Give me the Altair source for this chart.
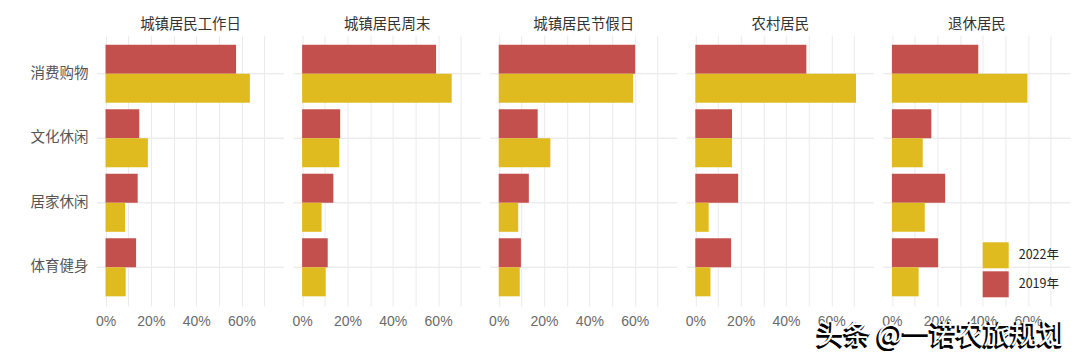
import altair as alt
import pandas as pd

groups = ['城镇居民工作日', '城镇居民周末', '城镇居民节假日', '农村居民', '退休居民']
categories = ['消费购物', '文化休闲', '居家休闲', '体育健身']
years = ['2022年', '2019年']
v2019 = [
    [57.6, 14.9, 14.2, 13.5],
    [59.1, 16.8, 13.8, 11.3],
    [60.2, 17.2, 13.3, 9.8],
    [49.0, 16.2, 18.9, 15.8],
    [38.1, 17.4, 23.5, 20.4],
]
v2022 = [
    [63.7, 18.7, 8.6, 8.9],
    [66.0, 16.4, 8.6, 10.4],
    [59.3, 22.8, 8.6, 9.3],
    [70.9, 16.2, 5.9, 6.7],
    [59.8, 13.6, 14.5, 11.8],
]
x_ticks = [0, 10, 20, 30, 40, 50, 60, 70]
watermark = '头条 @一诺农旅规划'

rows = []
for gi, g in enumerate(groups):
    for ci, c in enumerate(categories):
        rows.append({'group': g, 'category': c, 'year': '2019年', 'value': v2019[gi][ci]})
        rows.append({'group': g, 'category': c, 'year': '2022年', 'value': v2022[gi][ci]})
df = pd.DataFrame(rows)

GOLD = '#E0BB1F'
RED = '#C4504D'
CJK = 'Noto Sans CJK SC'
GRID = '#ebebeb'

y_enc = alt.Y('category:N', sort=categories,
              scale=alt.Scale(paddingInner=0, paddingOuter=0.1),
              axis=alt.Axis(title=None, ticks=False, domain=False, grid=False,
                            labelPadding=9, minExtent=70, labelFont=CJK,
                            labelFontSize=14.5, labelColor='#555555'))

hgrid = alt.Chart().mark_rule(color=GRID, strokeWidth=1).encode(y=y_enc)

bars = alt.Chart().mark_bar(opacity=1).encode(
    x=alt.X('value:Q',
            scale=alt.Scale(domain=[-3.75, 78.75], nice=False, zero=False),
            axis=alt.Axis(title=None, values=x_ticks,
                          labelExpr="datum.value % 20 == 0 ? datum.value + '%' : ''",
                          ticks=False, domain=False, grid=True, gridColor=GRID,
                          gridWidth=1, labelPadding=8, labelFont='Liberation Sans',
                          labelFontSize=14, labelColor='#6a6a6a')),
    y=y_enc,
    yOffset=alt.YOffset('year:N', sort=['2019年', '2022年'],
                        scale=alt.Scale(paddingInner=0, paddingOuter=0.111)),
    color=alt.Color('year:N',
                    scale=alt.Scale(domain=years, range=[GOLD, RED]),
                    legend=alt.Legend(title=None, orient='none', legendX=885.7,
                                      legendY=207.3, symbolType='square',
                                      symbolSize=676, symbolStrokeWidth=0,
                                      symbolOpacity=1, labelFont=CJK,
                                      labelFontSize=12.5, labelColor='#222222',
                                      labelOffset=10, rowPadding=3)),
)

wm_filter = (alt.datum.group == '退休居民') & (alt.datum.category == '消费购物') & (alt.datum.year == '2019年')
wm_shadow = alt.Chart().mark_text(
    text=watermark, align='left', baseline='alphabetic', font=CJK, fontSize=27,
    color='#000000', stroke='#000000', strokeWidth=1.4
).encode(x=alt.value(-68), y=alt.value(310.5)).transform_filter(wm_filter)
wm_text = alt.Chart().mark_text(
    text=watermark, align='left', baseline='alphabetic', font=CJK, fontSize=27,
    color='#ffffff'
).encode(x=alt.value(-66.5), y=alt.value(309)).transform_filter(wm_filter)

chart = alt.layer(hgrid, bars, wm_shadow, wm_text, data=df).properties(
    width=187, height=271
).facet(
    column=alt.Column('group:N', sort=groups,
                      header=alt.Header(title=None, labelFont=CJK, labelFontSize=14.4,
                                        labelColor='#333333', labelPadding=3)),
    spacing=9.6,
    bounds='flush',
).properties(
    padding={'left': 19, 'top': 8, 'right': 0, 'bottom': 0},
    background='white',
).configure_view(stroke='transparent', strokeWidth=0)

chart.save('out.html', embed_options={'renderer': 'svg', 'actions': False})
